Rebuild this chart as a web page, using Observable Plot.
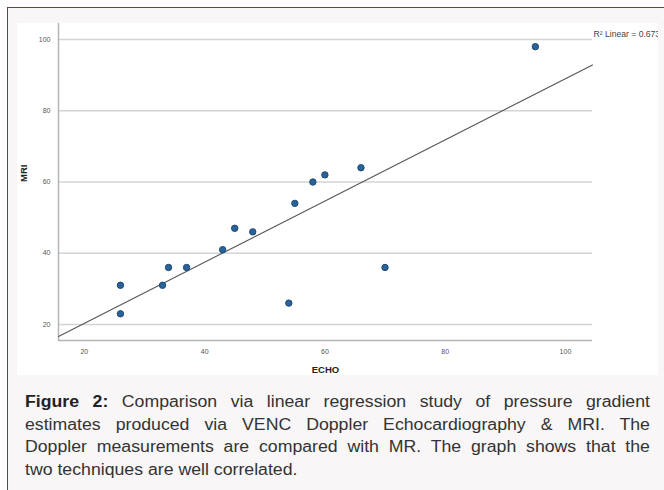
<!DOCTYPE html>
<html>
<head>
<meta charset="utf-8">
<script src="https://cdn.jsdelivr.net/npm/d3@7"></script>
<script src="https://cdn.jsdelivr.net/npm/@observablehq/plot@0.6"></script>
<style>
  html, body { margin: 0; padding: 0; background: #ffffff; width: 664px; height: 490px; overflow: hidden; }
  #frame { position: absolute; left: 7px; top: 7px; width: 670px; height: 500px;
           border-top: 1.5px solid #c0143c; border-left: 1.5px solid #c0143c; background: #f8f6f7; }
  #panel { position: absolute; left: 17px; top: 23px; width: 641px; height: 352px; background: #fff; overflow: hidden; }
  #panel svg { overflow: hidden; }
  #caption { position: absolute; left: 25px; top: 391px; width: 558px; font-family: "Liberation Sans", Arial, sans-serif;
             font-size: 15.8px; line-height: 22.6px; color: #333; transform: scaleX(1.12); transform-origin: 0 0; }
  #caption .l { display: block; text-align: justify; text-align-last: justify; white-space: nowrap; }
  #caption .last { display: block; text-align: left; white-space: nowrap; }
  #caption b { color: #222; }
</style>
</head>
<body>
<div id="frame"></div>
<div id="panel"></div>
<div id="caption"><span class="l"><b>Figure 2:</b> Comparison via linear regression study of pressure gradient</span><span class="l">estimates produced via VENC Doppler Echocardiography &amp; MRI. The</span><span class="l">Doppler measurements are compared with MR. The graph shows that the</span><span class="last">two techniques are well correlated.</span></div>
<script>
// Data
const echo = [26, 26, 33, 34, 37, 43, 45, 48, 54, 55, 58, 60, 66, 70, 95];
const mri  = [31, 23, 31, 36, 36, 41, 47, 46, 26, 54, 60, 62, 64, 36, 98];
const xTicks = [20, 40, 60, 80, 100];
const yTicks = [20, 40, 60, 80, 100];
const fitLabel = "R\u00B2 Linear = 0.673";

const data = echo.map((x, i) => ({echo: x, mri: mri[i]}));

// Least-squares fit computed from the data
const mx = d3.mean(echo), my = d3.mean(mri);
const sxy = d3.sum(echo, (x, i) => (x - mx) * (mri[i] - my));
const sxx = d3.sum(echo, x => (x - mx) ** 2);
const slope = sxy / sxx, intercept = my - slope * mx;

const xDomain = [15.7, 104.5];
const yDomain = [15.5, 104.5];
const fit = xDomain.map(x => ({echo: x, mri: intercept + slope * x}));

const chart = Plot.plot({
  width: 641,
  height: 352,
  marginLeft: 41,
  marginRight: 66,
  marginTop: 0,
  marginBottom: 35,
  style: {background: "#fff", fontFamily: "Liberation Sans, Arial, sans-serif"},
  x: {domain: xDomain, ticks: xTicks, label: null},
  y: {domain: yDomain, ticks: yTicks, label: null},
  marks: [
    Plot.gridY(yTicks, {stroke: "#d4d4d4", strokeOpacity: 1, strokeWidth: 1.5}),
    Plot.ruleX([xDomain[0]], {stroke: "#b5b5b5", strokeWidth: 1.5}),
    Plot.ruleY([yDomain[0]], {stroke: "#b5b5b5", strokeWidth: 1.5}),
    Plot.axisX(xTicks, {tickSize: 0, tickPadding: 9, fontSize: 7, fill: "#555", label: null}),
    Plot.axisY(yTicks, {tickSize: 0, tickPadding: 8, fontSize: 7, fill: "#555", label: null}),
    Plot.line(fit, {x: "echo", y: "mri", stroke: "#555", strokeWidth: 1.1}),
    Plot.dot(data, {x: "echo", y: "mri", r: 3.2, fill: "#2b6298", stroke: "#1c4a78", strokeWidth: 1}),
    Plot.text([fitLabel], {frameAnchor: "top-right", dx: 1, dy: 7, textAnchor: "start", fontSize: 8.6, fill: "#444"}),
    Plot.text(["ECHO"], {frameAnchor: "bottom", dy: 32, fontSize: 9.5, fontWeight: "bold", fill: "#222"}),
    Plot.text(["MRI"], {frameAnchor: "left", dx: -35, rotate: -90, fontSize: 9.5, fontWeight: "bold", fill: "#222"})
  ]
});
document.getElementById("panel").appendChild(chart);
</script>
</body>
</html>
